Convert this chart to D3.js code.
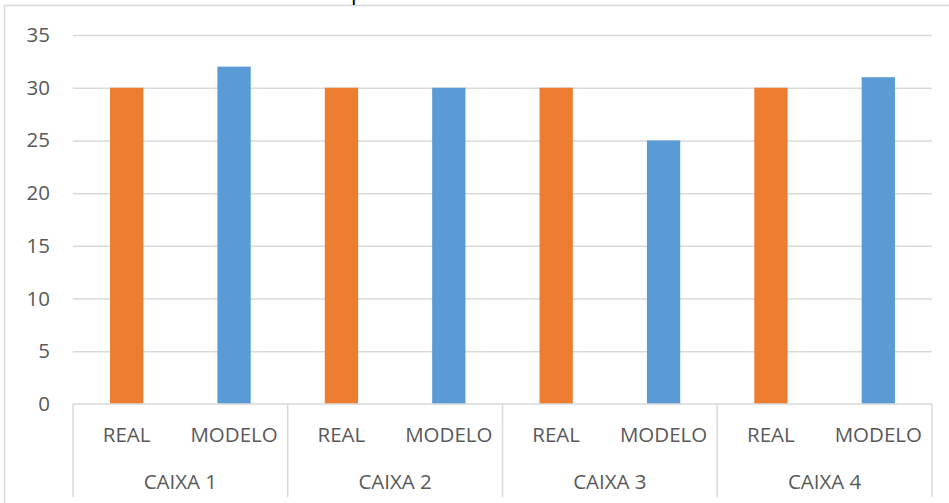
<!DOCTYPE html>
<html>
<head>
<meta charset="utf-8">
<script src="https://cdn.jsdelivr.net/npm/d3@7"></script>
<style>
  html, body { margin: 0; padding: 0; background: #fff; }
  svg { display: block; }
</style>
</head>
<body>
<svg id="chart" width="949" height="503"></svg>
<script>
const groups = ["CAIXA 1", "CAIXA 2", "CAIXA 3", "CAIXA 4"];
const seriesNames = ["REAL", "MODELO"];
const realValues = [30, 30, 30, 30];
const modeloValues = [32, 30, 25, 31];
const yTicks = [0, 5, 10, 15, 20, 25, 30, 35];
const colors = { REAL: "#ED7D31", MODELO: "#5B9BD5" };

const rows = [];
groups.forEach((g, i) => {
  rows.push({ group: g, name: "REAL", value: realValues[i], key: g + "|REAL" });
  rows.push({ group: g, name: "MODELO", value: modeloValues[i], key: g + "|MODELO" });
});

const svg = d3.select("#chart");
const plotLeft = 73, plotRight = 932, plotTop = 35, plotBottom = 404;
const textColor = "#595959";
const gridColor = "#d9d9d9";
const font = "'Open Sans', sans-serif";
const fs = 20.5;

// Outer chart border (extends beyond the visible area)
svg.append("rect")
  .attr("x", 4.5).attr("y", 5.5)
  .attr("width", 1000).attr("height", 600)
  .attr("fill", "none").attr("stroke", gridColor).attr("stroke-width", 1.5);

// Title above the chart, only its descender visible (clipped as in the reference)
svg.append("text")
  .attr("x", 351).attr("y", 0)
  .attr("font-family", font).attr("font-size", 22)
  .attr("fill", "#000")
  .text("p");

const y = d3.scaleLinear().domain([0, 35]).range([plotBottom, plotTop]);
const xGroup = d3.scaleBand().domain(groups).range([plotLeft, plotRight]).padding(0);
const xInner = d3.scaleBand().domain(seriesNames).range([0, xGroup.bandwidth()]).padding(0);
const barW = xInner.bandwidth() * 0.31;

// Gridlines
const yAxis = d3.axisLeft(y).tickValues(yTicks).tickSize(-(plotRight - plotLeft)).tickPadding(24);
const gy = svg.append("g").attr("transform", `translate(${plotLeft},0)`).call(yAxis);
gy.select(".domain").remove();
gy.selectAll(".tick line").attr("stroke", gridColor).attr("stroke-width", 1.5)
  .filter(d => d === 0).remove();
gy.selectAll(".tick text")
  .attr("fill", textColor).attr("font-family", font).attr("font-size", fs)
  .attr("x", -23);

// Bars
svg.append("g").selectAll("rect").data(rows).join("rect")
  .attr("x", d => xGroup(d.group) + xInner(d.name) + (xInner.bandwidth() - barW) / 2)
  .attr("y", d => y(d.value))
  .attr("width", barW)
  .attr("height", d => y(0) - y(d.value))
  .attr("fill", d => colors[d.name]);

// X axis baseline and group separators
const axisG = svg.append("g");
axisG.append("line")
  .attr("x1", plotLeft).attr("x2", plotRight).attr("y1", plotBottom).attr("y2", plotBottom)
  .attr("stroke", gridColor).attr("stroke-width", 1.5);
const seps = groups.map(g => xGroup(g)).concat([plotRight]);
axisG.selectAll("line.sep").data(seps).join("line")
  .attr("class", "sep")
  .attr("x1", d => d).attr("x2", d => d)
  .attr("y1", plotBottom).attr("y2", 497)
  .attr("stroke", gridColor).attr("stroke-width", 1.5);

// Inner category labels
axisG.selectAll("text.inner").data(rows).join("text")
  .attr("class", "inner")
  .attr("x", d => xGroup(d.group) + xInner(d.name) + xInner.bandwidth() / 2)
  .attr("y", 435)
  .attr("dy", "0.35em")
  .attr("text-anchor", "middle")
  .attr("fill", textColor).attr("font-family", font).attr("font-size", fs)
  .text(d => d.name);

// Group labels
axisG.selectAll("text.group").data(groups).join("text")
  .attr("class", "group")
  .attr("x", d => xGroup(d) + xGroup.bandwidth() / 2)
  .attr("y", 482)
  .attr("dy", "0.35em")
  .attr("text-anchor", "middle")
  .attr("fill", textColor).attr("font-family", font).attr("font-size", fs)
  .text(d => d);
</script>
</body>
</html>
